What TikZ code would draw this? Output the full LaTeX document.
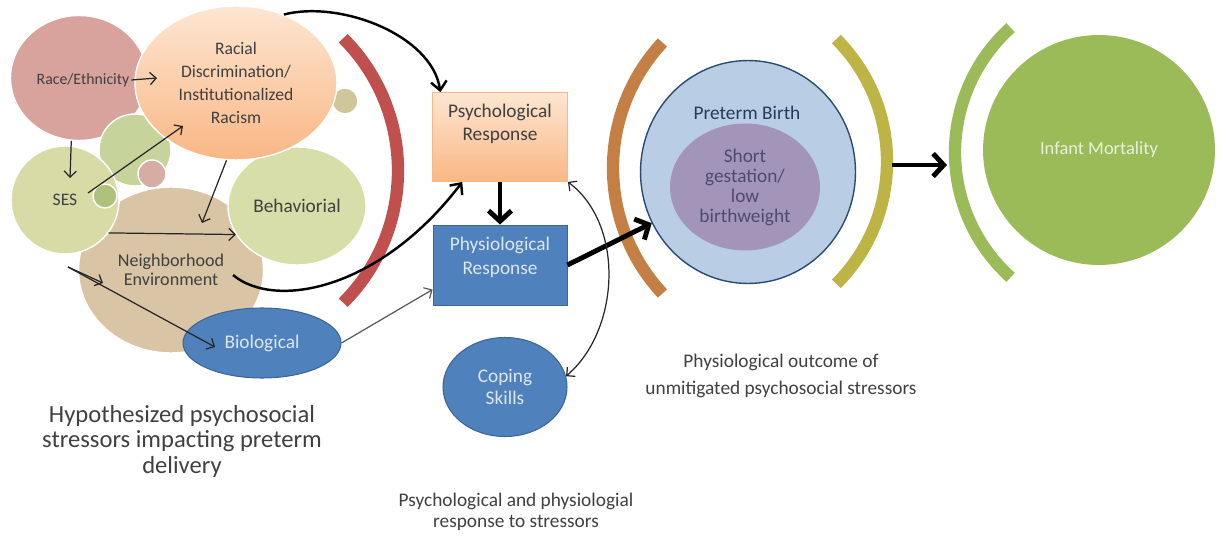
\documentclass[tikz,border=0pt]{standalone}
\usepackage{fontspec}
\setmainfont{Carlito}
\usetikzlibrary{arrows.meta,shapes.geometric,positioning}

\definecolor{txtgray}{HTML}{404040}
\definecolor{racepink}{HTML}{D8A29D}
\definecolor{sesolive}{HTML}{D9DBA6}
\definecolor{neightan}{HTML}{D9C5A5}
\definecolor{behavgreen}{HTML}{D8DEAA}
\definecolor{blobgreen}{HTML}{C6D49C}
\definecolor{blobolive}{HTML}{AFC27C}
\definecolor{blobpink}{HTML}{D6ADA5}
\definecolor{blobtan}{HTML}{CFC79A}
\definecolor{peachtop}{HTML}{FDE6D2}
\definecolor{peachbot}{HTML}{F9B785}
\definecolor{stressblue}{HTML}{4F81BD}
\definecolor{stressedge}{HTML}{3A6598}
\definecolor{lightlabel}{HTML}{DCE6F2}
\definecolor{pretermblue}{HTML}{B9CDE5}
\definecolor{pretermedge}{HTML}{2B4A74}
\definecolor{pretermtext}{HTML}{243B5C}
\definecolor{lowbwpurple}{HTML}{A395B9}
\definecolor{lowbwtext}{HTML}{4E4A70}
\definecolor{infantgreen}{HTML}{9BBB59}
\definecolor{infanttext}{HTML}{E9F1DC}
\definecolor{arcred}{HTML}{C0504D}
\definecolor{arcbrown}{HTML}{C47F45}
\definecolor{arcolive}{HTML}{BDB445}

\begin{document}
\begin{tikzpicture}[x=0.02cm, y=0.02cm,
	blob/.style={ellipse, inner sep=0pt, draw=white, line width=0.8pt, text=txtgray, align=center},
	stressor/.style={ellipse, inner sep=0pt, fill=stressblue, draw=stressedge, line width=0.6pt, text=lightlabel, align=center, font=\fontsize{11}{13}\selectfont},
	lbl/.style={align=center, inner sep=1pt, text=txtgray, font=\fontsize{11}{13}\selectfont},
	thinarrow/.style={-{Straight Barb[length=3.5pt,width=7pt]}, line width=0.7pt, draw=black!85},
	dblarrow/.style={{Straight Barb[length=3.5pt,width=7pt]}-{Straight Barb[length=3.5pt,width=7pt]}, line width=0.7pt, draw=black!85},
	bendarrow/.style={-{Straight Barb[length=5pt,width=9pt]}, line width=1.4pt},
	fatarrow/.style={-{Straight Barb[length=6pt,width=13pt]}, line width=2.8pt},
	bracket/.style={line width=7pt}]
	\useasboundingbox (0,0) rectangle (1222,-543);

	% overlapping stressors
	\node[blob, fill=neightan, minimum width=3.7cm, minimum height=3.32cm, font=\fontsize{10.3}{11}\selectfont] (neigh) at (171,-270) {Neighborhood\\Environment};
	\node[blob, fill=blobtan, minimum size=0.6cm] (tanblob) at (280,-155) {};
	\node[blob, fill=blobtan, minimum size=0.52cm] (rightblob) at (345,-101) {};
	\node[blob, fill=racepink, minimum width=2.74cm, minimum height=2.5cm] (race) at (79,-78) {};
	\node[lbl, font=\fontsize{9}{11}\selectfont] (racelbl) at (83,-80) {Race/Ethnicity};
	\node[blob, fill=blobgreen, minimum size=1.44cm] (greenblob) at (135,-150) {};
	\node[blob, fill=blobpink, minimum size=0.56cm] (pinkblob) at (152,-174) {};
	\node[blob, fill=sesolive, minimum size=2.16cm, font=\fontsize{10}{12}\selectfont] (ses) at (65,-200) {SES};
	\node[blob, fill=blobolive, minimum size=0.48cm] (oliveblob) at (105,-196) {};
	\node[blob, fill=behavgreen, minimum width=2.76cm, minimum height=2.36cm, font=\fontsize{11}{13}\selectfont] (behav) at (297,-206) {Behaviorial};
	\node[blob, top color=peachtop, bottom color=peachbot, minimum width=4.04cm, minimum height=3.08cm, font=\fontsize{10}{13}\selectfont] (racial) at (236,-83) {Racial\\Discrimination/\\Institutionalized\\Racism};
	\node[stressor, minimum width=3.16cm, minimum height=1.4cm] (bio) at (262,-343) {Biological};
	\draw[bracket, draw=arcred] (211,-170.5) ++(45:187) arc[start angle=45, end angle=-45, radius=187];

	% responses
	\node[rectangle, top color=peachtop, bottom color=peachbot, draw=peachbot, line width=0.5pt, minimum width=2.7cm, minimum height=1.78cm] (psych) at (500,-137) {};
	\node[lbl] (psychlbl) at (500,-124) {Psychological\\Response};
	\node[rectangle, fill=stressblue, draw=stressedge, line width=0.5pt, minimum width=2.68cm, minimum height=1.6cm] (phys) at (500,-265) {};
	\node[lbl, text=lightlabel, font=\fontsize{11}{13.5}\selectfont] (physlbl) at (500,-257) {Physiological\\Response};
	\node[stressor, minimum width=2.48cm, minimum height=1.98cm] (coping) at (505,-387) {Coping\\Skills};

	% outcomes
	\draw[bracket, draw=arcbrown] (797,-168) ++(137:184) arc[start angle=137, end angle=223, radius=184];
	\node[ellipse, fill=pretermblue, draw=pretermedge, line width=0.8pt, minimum width=4.3cm, minimum height=4.46cm] (preterm) at (748,-172) {};
	\node[ellipse, fill=lowbwpurple, inner sep=0pt, minimum width=3cm, minimum height=2.54cm, text=lowbwtext, align=center, font=\fontsize{11}{11.4}\selectfont] (lowbw) at (745,-187) {Short\\gestation/\\low\\birthweight};
	\node[lbl, text=pretermtext] (pretermlbl) at (747,-113) {Preterm Birth};
	\draw[bracket, draw=arcolive] (714,-161.5) ++(45:173) arc[start angle=45, end angle=-45, radius=173];
	\draw[bracket, draw=infantgreen] (1123,-152.5) ++(132:168) arc[start angle=132, end angle=228, radius=168];
	\node[ellipse, fill=infantgreen, minimum width=4.64cm, minimum height=4.6cm, text=infanttext, font=\fontsize{10.5}{12}\selectfont] (infant) at (1099,-150) {Infant Mortality};

	% captions
	\node[lbl, font=\fontsize{14}{14.5}\selectfont] (leftcap) at (182,-441) {Hypothesized psychosocial\\stressors impacting preterm\\delivery};
	\node[lbl, font=\fontsize{11}{12}\selectfont] (midcap) at (516,-512) {Psychological and physiologial\\response to stressors};
	\node[lbl, font=\fontsize{11}{15.4}\selectfont] (rightcap) at (781,-376) {Physiological outcome of\\unmitigated psychosocial stressors};

	% free ends
	\coordinate (racialin) at (157,-78);
	\coordinate (sesin) at (70,-178);
	\coordinate (sesout) at (88,-193);
	\coordinate (racialbot) at (183,-126);
	\coordinate (neighin) at (202,-223);
	\coordinate (sesfoot) at (68,-267);
	\coordinate (neighmid) at (103,-283);
	\coordinate (bioin) at (215,-347);
	\coordinate (neighout) at (233,-275);
	\coordinate (ygap) at (892,-165);
	\coordinate (ggap) at (947,-165);

	\draw[thinarrow] (racelbl.east) -- (racialin);
	\draw[thinarrow] (race.263) -- (sesin);
	\draw[thinarrow] (sesout) -- (racialbot);
	\draw[thinarrow] (racial.263) -- (neighin);
	\draw[thinarrow] (ses.-37) -- (behav.205);
	\draw[thinarrow] (sesfoot) -- (neighmid);
	\draw[thinarrow] (sesfoot) -- (bioin);
	\draw[thinarrow, draw=black!65] (bio.east) -- (phys.200);
	\draw[bendarrow] (racial.55) .. controls (340,0) and (432,-35) .. (psych.143);
	\draw[bendarrow] (neighout) .. controls (275,-310) and (380,-290) .. (psych.230);
	\draw[fatarrow] (psych) -- (phys);
	\draw[fatarrow] (phys.east) -- (preterm.208);
	\draw[fatarrow] (ygap) -- (ggap);
	\draw[dblarrow] (psych.south east) .. controls (625,-225) and (620,-330) .. (coping.10);
\end{tikzpicture}
\end{document}
